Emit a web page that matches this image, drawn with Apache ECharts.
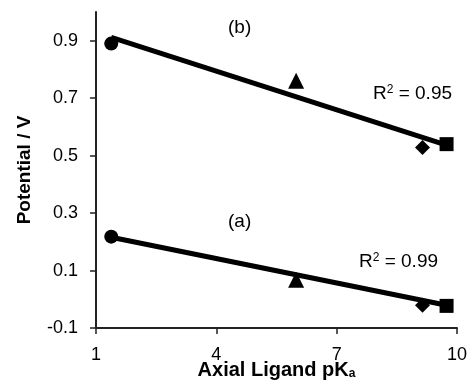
<!DOCTYPE html>
<html><head><meta charset="utf-8">
<script src="https://cdn.jsdelivr.net/npm/echarts@6/dist/echarts.min.js"></script>
<style>html,body{margin:0;padding:0;background:#fff}#c{width:467px;height:381px}</style>
</head><body><div id="c"></div>
<script>
// Data
const pKa = [1.38, 5.99, 9.14, 9.74];            // circle, triangle, diamond, square
const symbols = ['circle', 'triangle', 'diamond', 'rect'];
const potentialA = [0.218, 0.068, -0.021, -0.023]; // (a)
const potentialB = [0.890, 0.761, 0.528, 0.540];   // (b)
const fitLineA = [[1.38, 0.216], [9.74, -0.021]];
const fitLineB = [[1.38, 0.912], [9.74, 0.537]];
const xTicks = [1, 4, 7, 10];
const yTicks = [-0.1, 0.1, 0.3, 0.5, 0.7, 0.9];
const curveLabels = ['(a)', '(b)'];
const r2Labels = ['0.99', '0.95'];

const FONT = 'Liberation Sans, Arial, sans-serif';
const chart = echarts.init(document.getElementById('c'), null, {renderer: 'canvas'});

const series = [];
series.push({type: 'line', data: fitLineA, symbol: 'none', lineStyle: {color: '#000', width: 5}, z: 2, silent: true});
series.push({type: 'line', data: fitLineB, symbol: 'none', lineStyle: {color: '#000', width: 5}, z: 2, silent: true});
const sizes = {circle: 14, triangle: 16, diamond: 15, rect: 14};
pKa.forEach((x, i) => {
  series.push({
    type: 'scatter', symbol: symbols[i], symbolSize: sizes[symbols[i]],
    itemStyle: {color: '#000', opacity: 1}, z: 3,
    data: [[x, potentialA[i]], [x, potentialB[i]]]
  });
});

const r2Rich = {t: {fontSize: 19, fontFamily: FONT, fill: '#000'}, s: {fontSize: 12, fontFamily: FONT, fill: '#000', verticalAlign: 'top', padding: [0, 0, 8, 0]}};

chart.setOption({
  animation: false,
  backgroundColor: '#fff',
  grid: {left: 96, right: 10, top: 12, bottom: 53, containLabel: false, outerBoundsMode: 'none'},
  xAxis: {
    type: 'value', min: 1, max: 10, interval: 3,
    axisLine: {onZero: false, lineStyle: {color: '#222', width: 2}},
    axisTick: {show: true, inside: false, length: 6, lineStyle: {color: '#222', width: 1.5}, customValues: xTicks},
    axisLabel: {color: '#000', fontSize: 18, fontFamily: FONT, margin: 18, customValues: xTicks},
    splitLine: {show: false},
    name: '{b|Axial Ligand pK}{s|a}', nameLocation: 'middle', nameGap: 32, nameMoveOverlap: false,
    nameTextStyle: {rich: {
      b: {fontSize: 20, fontWeight: 'bold', fontFamily: FONT, color: '#000', lineHeight: 20},
      s: {fontSize: 12, fontWeight: 'bold', fontFamily: FONT, color: '#000', verticalAlign: 'bottom', lineHeight: 14}
    }}
  },
  yAxis: {
    type: 'value', min: -0.1, max: 1.0,
    axisLine: {show: true, onZero: false, lineStyle: {color: '#222', width: 2}},
    axisTick: {show: true, inside: false, length: 6, lineStyle: {color: '#222', width: 1.5}, customValues: yTicks},
    axisLabel: {color: '#000', fontSize: 18, fontFamily: FONT, margin: 18, customValues: yTicks,
      formatter: v => v.toFixed(1)},
    splitLine: {show: false},
    name: 'Potential / V', nameLocation: 'middle', nameGap: 62, nameRotate: 90, nameMoveOverlap: false,
    nameTextStyle: {fontSize: 19, fontWeight: 'bold', fontFamily: FONT, color: '#000'}
  },
  graphic: [
    {type: 'text', left: 228, top: 18, style: {text: curveLabels[1], font: '19px ' + FONT, fill: '#000'}},
    {type: 'text', left: 228, top: 212, style: {text: curveLabels[0], font: '19px ' + FONT, fill: '#000'}},
    {type: 'text', left: 373, top: 84, style: {text: '{t|R}{s|2}{t| = ' + r2Labels[1] + '}', rich: r2Rich}},
    {type: 'text', left: 359, top: 252, style: {text: '{t|R}{s|2}{t| = ' + r2Labels[0] + '}', rich: r2Rich}}
  ],
  series: series
});
</script></body></html>
